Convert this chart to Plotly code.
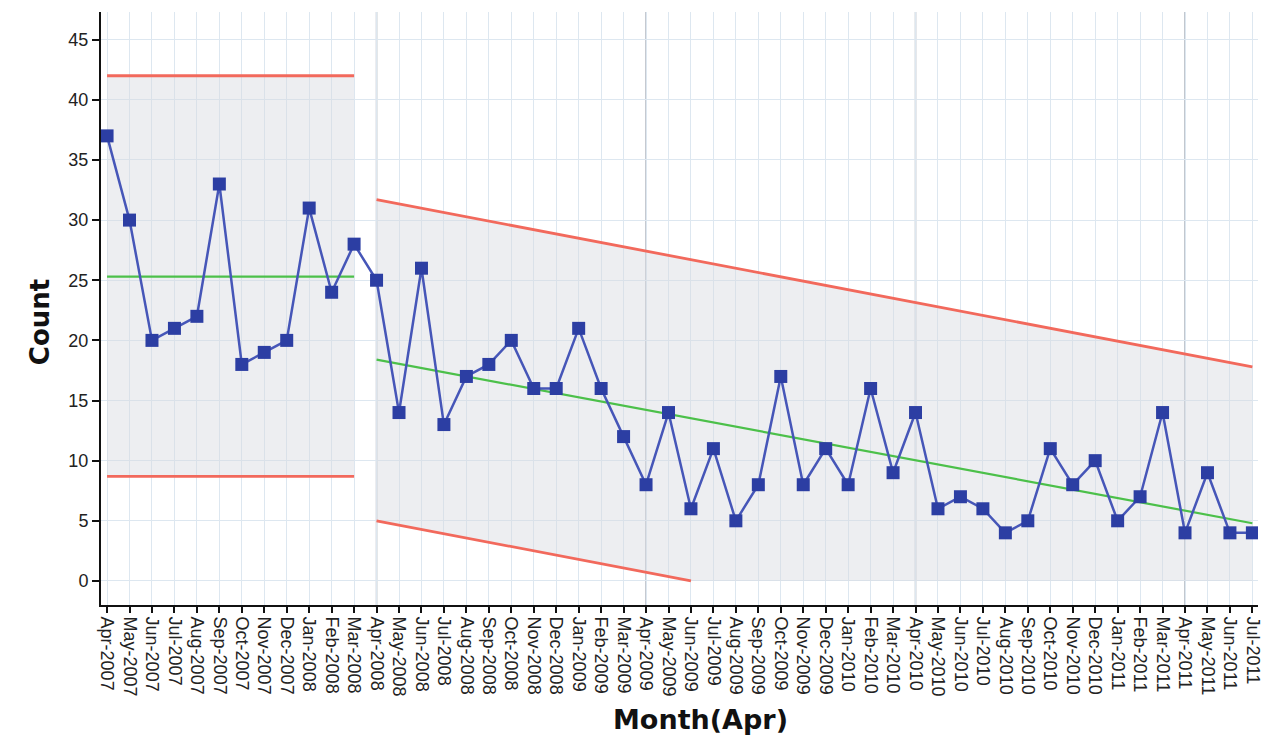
import plotly.graph_objects as go

# Monthly counts, Apr-2007 .. Jul-2011
months = [
    "Apr-2007", "May-2007", "Jun-2007", "Jul-2007", "Aug-2007", "Sep-2007",
    "Oct-2007", "Nov-2007", "Dec-2007", "Jan-2008", "Feb-2008", "Mar-2008",
    "Apr-2008", "May-2008", "Jun-2008", "Jul-2008", "Aug-2008", "Sep-2008",
    "Oct-2008", "Nov-2008", "Dec-2008", "Jan-2009", "Feb-2009", "Mar-2009",
    "Apr-2009", "May-2009", "Jun-2009", "Jul-2009", "Aug-2009", "Sep-2009",
    "Oct-2009", "Nov-2009", "Dec-2009", "Jan-2010", "Feb-2010", "Mar-2010",
    "Apr-2010", "May-2010", "Jun-2010", "Jul-2010", "Aug-2010", "Sep-2010",
    "Oct-2010", "Nov-2010", "Dec-2010", "Jan-2011", "Feb-2011", "Mar-2011",
    "Apr-2011", "May-2011", "Jun-2011", "Jul-2011",
]
counts = [
    37, 30, 20, 21, 22, 33, 18, 19, 20, 31, 24, 28,
    25, 14, 26, 13, 17, 18, 20, 16, 16, 21, 16, 12,
    8, 14, 6, 11, 5, 8, 17, 8, 11, 8, 16, 9,
    14, 6, 7, 6, 4, 5, 11, 8, 10, 5, 7, 14,
    4, 9, 4, 4,
]
y_ticks = [0, 5, 10, 15, 20, 25, 30, 35, 40, 45]

# Phase 1 (Apr-2007 .. Mar-2008): flat limits
p1_idx = [0, 11]
p1_ucl = [42.0, 42.0]
p1_cl = [25.3, 25.3]
p1_lcl = [8.7, 8.7]

# Phase 2 (Apr-2008 .. Jul-2011): trending limits
p2_idx = [12, 51]
p2_ucl = [31.7, 17.8]
p2_cl = [18.4, 4.8]
p2_lcl_idx = [12, 26]
p2_lcl = [5.0, 0.0]

x = list(range(len(months)))

RED = "#f2695c"
GREEN = "#4cc04a"
BLUE_LINE = "#4656b8"
BLUE_MARK = "#2c3ea3"
BAND = "rgba(214,218,224,0.45)"

fig = go.Figure()

# shaded control bands
fig.add_trace(go.Scatter(
    x=[p1_idx[0], p1_idx[1], p1_idx[1], p1_idx[0]],
    y=[p1_lcl[0], p1_lcl[1], p1_ucl[1], p1_ucl[0]],
    fill="toself", fillcolor=BAND, mode="none", hoverinfo="skip", showlegend=False,
))
fig.add_trace(go.Scatter(
    x=[p2_lcl_idx[0], p2_lcl_idx[1], p2_idx[1], p2_idx[1], p2_idx[0]],
    y=[p2_lcl[0], p2_lcl[1], 0.0, p2_ucl[1], p2_ucl[0]],
    fill="toself", fillcolor=BAND, mode="none", hoverinfo="skip", showlegend=False,
))

# control limits and centre lines
for xs, ys, col, w in [
    (p1_idx, p1_ucl, RED, 2.8), (p1_idx, p1_lcl, RED, 2.8), (p1_idx, p1_cl, GREEN, 2.2),
    (p2_idx, p2_ucl, RED, 2.8), (p2_lcl_idx, p2_lcl, RED, 2.8), (p2_idx, p2_cl, GREEN, 2.2),
]:
    fig.add_trace(go.Scatter(
        x=xs, y=ys, mode="lines", line=dict(color=col, width=w),
        hoverinfo="skip", showlegend=False,
    ))

# monthly counts
fig.add_trace(go.Scatter(
    x=x, y=counts, mode="lines+markers",
    line=dict(color=BLUE_LINE, width=2.5),
    marker=dict(symbol="square", size=13, color=BLUE_MARK),
    showlegend=False, name="Count",
))

# darker separators at each April
for i, m in enumerate(months):
    if m.startswith("Apr") and i > 0:
        fig.add_shape(type="line", xref="x", yref="paper", x0=i, x1=i, y0=0, y1=1,
                      line=dict(color="#b3b9c1", width=1.6), layer="below")

# axis titles
fig.add_annotation(text="<b>Month(Apr)</b>", xref="paper", yref="paper",
                   x=0.518, y=-0.222, xanchor="center", yanchor="bottom", showarrow=False,
                   font=dict(family="DejaVu Sans", size=27, color="#111"))
fig.add_annotation(text="<b>Count</b>", xref="paper", yref="paper",
                   x=-0.0527, y=0.477, xanchor="center", yanchor="middle", showarrow=False,
                   textangle=-90, font=dict(family="DejaVu Sans", size=26, color="#111"))

fig.update_layout(
    width=1263, height=740,
    margin=dict(l=101, r=5, t=12, b=135, autoexpand=False),
    paper_bgcolor="white", plot_bgcolor="white",
    font=dict(family="Liberation Sans, Arial, sans-serif", color="#222"),
)
fig.update_xaxes(
    range=[-0.27, 51.25], automargin=False,
    tickmode="array", tickvals=x, ticktext=months, tickangle=90,
    tickfont=dict(size=18, color="#222"),
    showgrid=True, gridcolor="#dde7f0", gridwidth=1,
    showline=True, linecolor="#111", linewidth=2,
    ticks="outside", ticklen=6, tickcolor="#111", tickwidth=1.5,
    zeroline=False,
)
fig.update_yaxes(
    range=[-2, 47.3], automargin=False,
    tickmode="array", tickvals=y_ticks,
    tickfont=dict(size=18, color="#222"),
    showgrid=True, gridcolor="#dde7f0", gridwidth=1,
    showline=True, linecolor="#111", linewidth=2,
    ticks="outside", ticklen=7, tickcolor="#111", tickwidth=1.5,
    zeroline=False,
)

fig.write_html("out.html")
